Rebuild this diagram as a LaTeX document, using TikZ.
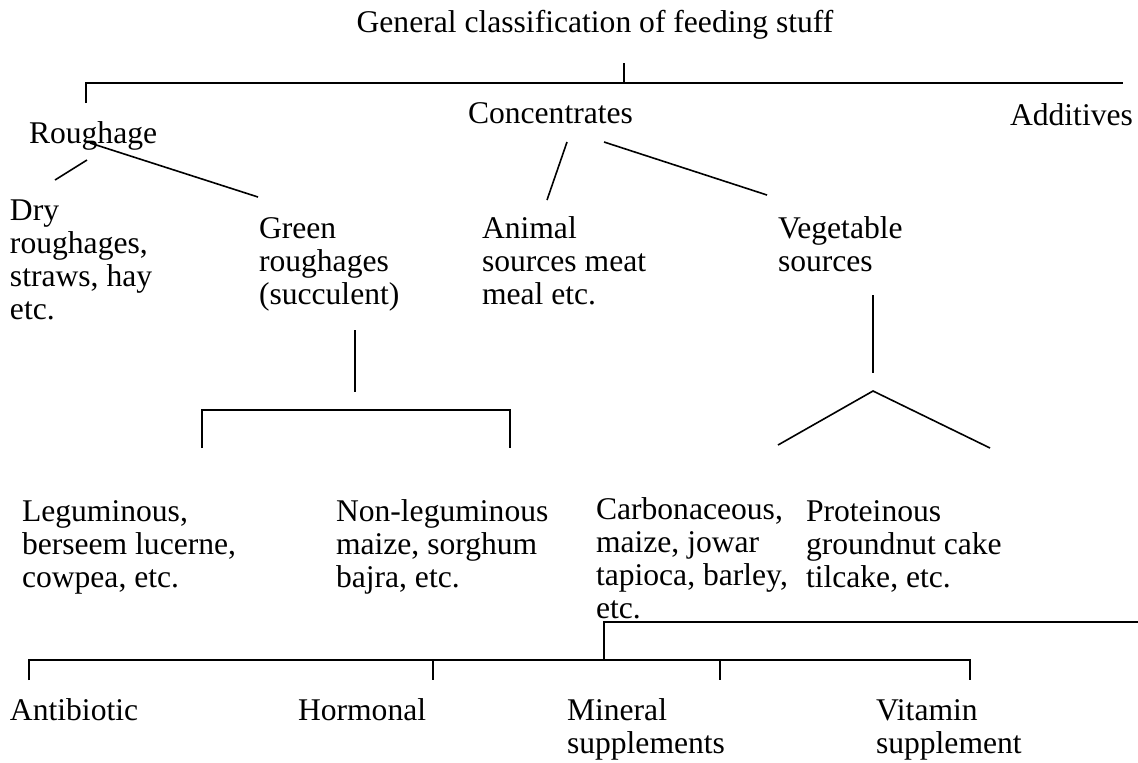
\documentclass[tikz,border=0pt]{standalone}
\usepackage{fontspec}
\setmainfont{Liberation Serif}
\tikzset{
  item/.style={anchor=base west,inner sep=0,outer sep=0,align=left,font=\fontsize{15.8}{16.5}\selectfont},
  branch/.style={line width=0.8pt,black},
  joint/.style={coordinate}
}

\begin{document}
\begin{tikzpicture}[x=0.5pt,y=-0.5pt]
    \useasboundingbox (0,0) rectangle (1138,762);

    % multi-line nodes sit on the baseline of their last line
    \node[item,anchor=base] (title) at (595,32) {General classification of feeding stuff};
    \node[item] (rough) at (29,143) {Roughage};
    \node[item] (conc) at (468,123) {Concentrates};
    \node[item] (addit) at (1010,125) {Additives};
    \node[item] (dry) at (10,319) {Dry\\roughages,\\straws, hay\\etc.};
    \node[item] (green) at (259,304) {Green\\roughages\\(succulent)};
    \node[item] (animal) at (482,304) {Animal\\sources meat\\meal etc.};
    \node[item] (veg) at (778,271) {Vegetable\\sources};
    \node[item] (legum) at (22,587) {Leguminous,\\berseem lucerne,\\cowpea, etc.};
    \node[item] (nonleg) at (336,587) {Non-leguminous\\maize, sorghum\\bajra, etc.};
    \node[item] (carb) at (596,618) {Carbonaceous,\\maize, jowar\\tapioca, barley,\\etc.};
    \node[item] (prot) at (806,587) {Proteinous\\groundnut cake\\tilcake, etc.};
    \node[item] (anti) at (10,720) {Antibiotic};
    \node[item] (horm) at (298,720) {Hormonal};
    \node[item] (miner) at (567,753) {Mineral\\supplements};
    \node[item] (vitam) at (876,753) {Vitamin\\supplement};

    % top level
    \node[joint] (t0) at (624,63) {};
    \node[joint] (t1) at (624,83) {};
    \node[joint] (tl) at (86,83) {};
    \node[joint] (tr) at (1123,83) {};
    \node[joint] (tlr) at (86,103) {};
    \draw[branch] (t0) -- (t1);
    \draw[branch] (tlr) -- (tl) -- (tr);

    % roughage
    \node[joint] (r0) at (87,160) {};
    \node[joint] (r1) at (55,180) {};
    \node[joint] (r2) at (90,143) {};
    \node[joint] (r3) at (258,197) {};
    \draw[branch] (r0) -- (r1);
    \draw[branch] (r2) -- (r3);

    % concentrates
    \node[joint] (c0) at (567,142) {};
    \node[joint] (c1) at (547,200) {};
    \node[joint] (c2) at (604,142) {};
    \node[joint] (c3) at (767,195) {};
    \draw[branch] (c0) -- (c1);
    \draw[branch] (c2) -- (c3);

    % green roughages
    \node[joint] (g0) at (355,330) {};
    \node[joint] (g1) at (355,392) {};
    \node[joint] (gl) at (202,448) {};
    \node[joint] (gl1) at (202,410) {};
    \node[joint] (gr1) at (510,410) {};
    \node[joint] (gr) at (510,448) {};
    \draw[branch] (g0) -- (g1);
    \draw[branch] (gl) -- (gl1) -- (gr1) -- (gr);

    % vegetable sources
    \node[joint] (v0) at (873,295) {};
    \node[joint] (v1) at (873,373) {};
    \node[joint] (vl) at (778,445) {};
    \node[joint] (vm) at (873,391) {};
    \node[joint] (vr) at (990,448) {};
    \draw[branch] (v0) -- (v1);
    \draw[branch] (vl) -- (vm) -- (vr);

    % additives
    \node[joint] (a0) at (604,660) {};
    \node[joint] (a1) at (604,622) {};
    \node[joint] (a2) at (1138,622) {};
    \node[joint] (b0) at (29,680) {};
    \node[joint] (b1) at (29,660) {};
    \node[joint] (b2) at (970,660) {};
    \node[joint] (b3) at (970,680) {};
    \node[joint] (h0) at (433,660) {};
    \node[joint] (h1) at (433,680) {};
    \node[joint] (m0) at (720,660) {};
    \node[joint] (m1) at (720,680) {};
    \draw[branch] (a0) -- (a1) -- (a2);
    \draw[branch] (b0) -- (b1) -- (b2) -- (b3);
    \draw[branch] (h0) -- (h1);
    \draw[branch] (m0) -- (m1);

\end{tikzpicture}
\end{document}
